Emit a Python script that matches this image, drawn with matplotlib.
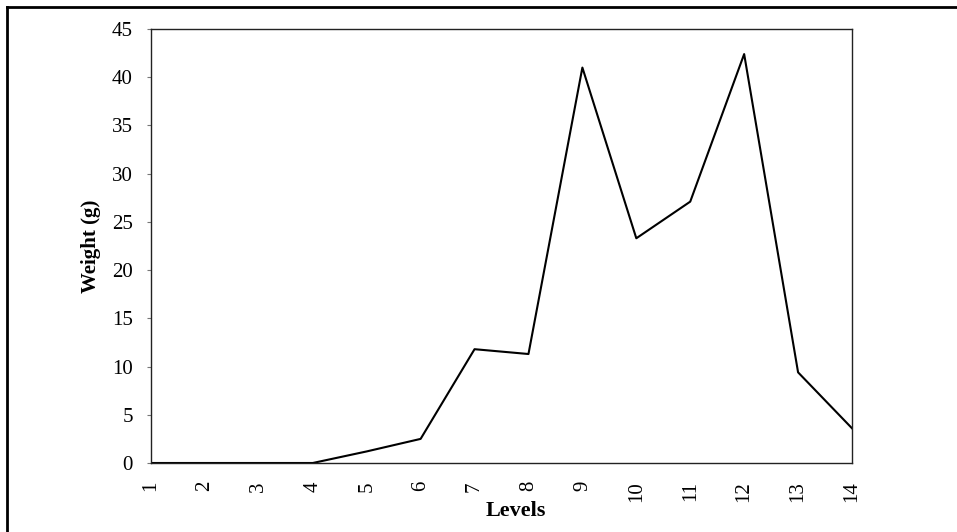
import matplotlib
matplotlib.use("Agg")
import matplotlib.pyplot as plt
from matplotlib.lines import Line2D

levels = [str(i) for i in range(1, 15)]
weight = [0, 0, 0, 0, 1.2, 2.5, 11.8, 11.3, 41.0, 23.3, 27.1, 42.4, 9.4, 3.6]

plt.rcParams['font.family'] = ['Liberation Serif', 'DejaVu Serif']

fig = plt.figure(figsize=(9.57, 5.32), dpi=100)
ax = fig.add_axes([151/957, 1 - 463/532, (852 - 151)/957, (463 - 29)/532])

x = list(range(len(levels)))
ax.plot(x, weight, color='black', lw=1.5)

ax.set_xlim(0, len(levels) - 1)
ax.set_ylim(0, 45)
ax.set_yticks(range(0, 46, 5))
ax.set_xticks(x)
ax.set_xticklabels(levels, rotation=90)
ax.tick_params(axis='y', labelsize=15, length=3, width=0.8, color='#777777',
               direction='out', pad=10)
ax.tick_params(axis='x', labelsize=15, length=0, pad=13)
for s in ax.spines.values():
    s.set_linewidth(1.0)
    s.set_color('#222222')

ax.set_ylabel('Weight (g)', fontsize=15, fontweight='bold', labelpad=8)
ax.set_xlabel('Levels', fontsize=16, fontweight='bold')
ax.xaxis.set_label_coords(0.52, -0.088)

# outer frame (left and top edges visible)
fig.add_artist(Line2D([7/957, 7/957], [0, 1 - 7/532], transform=fig.transFigure, color='black', lw=2))
fig.add_artist(Line2D([7/957, 1], [1 - 7/532, 1 - 7/532], transform=fig.transFigure, color='black', lw=2))

fig.savefig('out.png', dpi=100)
